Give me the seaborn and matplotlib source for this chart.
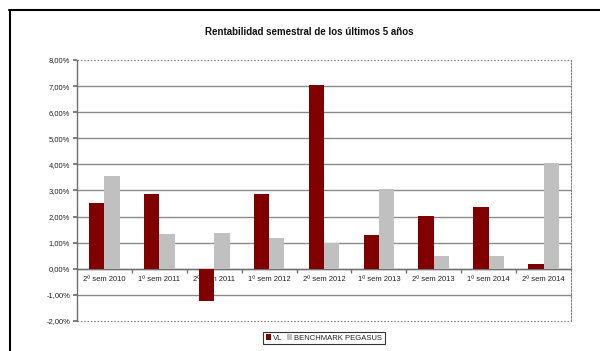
import matplotlib
matplotlib.use("Agg")
import matplotlib.pyplot as plt
import matplotlib.ticker as mticker
from matplotlib.lines import Line2D
import seaborn as sns
import pandas as pd
import numpy as np

categories = ["2º sem 2010", "1º sem 2011", "2º sem 2011", "1º sem 2012", "2º sem 2012",
              "1º sem 2013", "2º sem 2013", "1º sem 2014", "2º sem 2014"]
vl = [2.53, 2.85, -1.25, 2.88, 7.05, 1.30, 2.02, 2.35, 0.20]
benchmark = [3.55, 1.32, 1.38, 1.18, 1.00, 3.07, 0.48, 0.50, 4.07]
series_names = ["VL", "BENCHMARK PEGASUS"]
title = "Rentabilidad semestral de los últimos 5 años"

df = pd.DataFrame({
    "cat": categories * 2,
    "val": vl + benchmark,
    "serie": [series_names[0]] * len(categories) + [series_names[1]] * len(categories),
})

sns.set_theme(style="white")
plt.rcParams["font.family"] = ["Liberation Sans", "DejaVu Sans"]

fig = plt.figure(figsize=(6.0, 3.51), dpi=100)
ax = fig.add_axes([77/600, 1 - 321/351, (571 - 77)/600, (321 - 60)/351])

sns.barplot(data=df, x="cat", y="val", hue="serie", order=categories,
            hue_order=series_names, palette=["#800000", "#C0C0C0"],
            width=0.56, gap=0, saturation=1, ax=ax, edgecolor="none", linewidth=0,
            errorbar=None, zorder=3)

ax.set_xlim(-0.5, len(categories) - 0.5)
ax.set_ylim(-2, 8)
ax.set_yticks(np.arange(-2, 9, 1))
ax.yaxis.set_major_formatter(mticker.FuncFormatter(lambda v, p: f"{v:.2f}%".replace(".", ",")))
ax.set_xlabel("")
ax.set_ylabel("")

ax.yaxis.grid(True, color="#8a8a8a", linewidth=1.0, zorder=0)
ax.set_axisbelow(True)
gls = ax.get_ygridlines()
for g in gls:
    g.set_clip_on(False)
for g in (gls[0], gls[-1]):
    g.set_linestyle((0, (1.5, 1.5)))
    g.set_color("#808080")
    g.set_linewidth(0.8)

ax.spines["bottom"].set_position(("data", 0))
ax.spines["bottom"].set_color("#707070")
ax.spines["bottom"].set_linewidth(1.0)
ax.spines["left"].set_color("#707070")
ax.spines["left"].set_linewidth(1.0)
ax.spines["top"].set_visible(False)
ax.spines["right"].set_linestyle((0, (1.5, 1.5)))
ax.spines["right"].set_color("#808080")
ax.spines["right"].set_linewidth(0.8)
ax.spines["right"].set_visible(True)

ax.tick_params(axis="y", which="major", labelsize=5.5, labelcolor="#222222",
               length=3, color="#707070", direction="out", left=True, pad=2)
ax.tick_params(axis="x", which="major", labelsize=5.5, labelcolor="#222222",
               length=0, pad=5)
ax.xaxis.set_minor_locator(mticker.FixedLocator(np.arange(0.5, len(categories) - 0.5, 1)))
ax.tick_params(axis="x", which="minor", length=3, color="#707070", direction="out", bottom=True)

leg = ax.legend(loc="center", bbox_to_anchor=(0.5, -0.065), ncol=2, fontsize=5.5,
                frameon=True, fancybox=False, edgecolor="#000000", handlelength=0.7,
                handleheight=0.7, handletextpad=0.3, columnspacing=0.5,
                borderpad=0.35, borderaxespad=0)
leg.get_frame().set_linewidth(0.8)
for t in leg.get_texts():
    t.set_color("#222222")

fig.text(309/600, 1 - 32/351, title, ha="center", va="center", fontsize=7,
         fontweight="bold", color="#111111")

fig.add_artist(Line2D([9/600, 1.0], [1 - 10/351, 1 - 10/351], color="black", linewidth=1.5,
                      transform=fig.transFigure))
fig.add_artist(Line2D([9.5/600, 9.5/600], [0.0, 1 - 10/351], color="black", linewidth=1.5,
                      transform=fig.transFigure))

fig.savefig("out.png", dpi=100)
